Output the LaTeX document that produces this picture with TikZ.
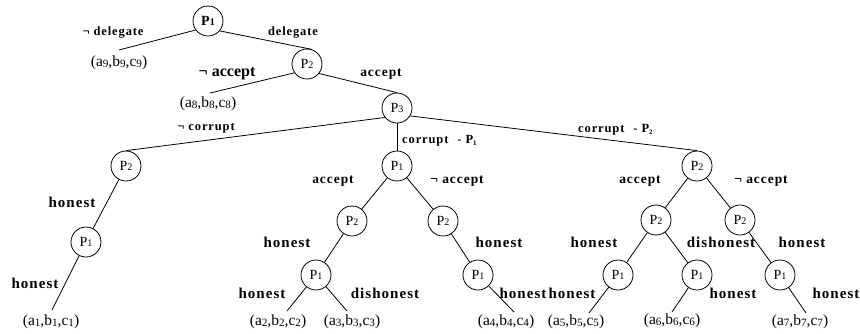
\documentclass[tikz,border=0pt]{standalone}
\usepackage{fontspec}
\setmainfont{Liberation Serif}
\newfontfamily\lblfont[LetterSpace=7]{Liberation Serif}
\newcommand\sbd[1]{\raisebox{-0.1ex}{\scalebox{0.72}{#1}}}
\newcommand\lfv[1]{(a\sbd{#1},b\sbd{#1},c\sbd{#1})}
\newcommand\pn[1]{P\sbd{#1}}
\newcommand\bsub[1]{\raisebox{-0.35ex}{\scalebox{0.55}{#1}}}
\tikzset{
  pl/.style={circle,draw,line width=0.8pt,minimum size=30pt,inner sep=0pt,font=\fontsize{14}{14}\selectfont},
  lf/.style={inner sep=0pt,anchor=north,font=\fontsize{15.5}{15.5}\selectfont},
  lbA/.style={inner sep=0pt,font=\lblfont\bfseries\fontsize{15}{15}\selectfont},
  lbB/.style={inner sep=0pt,font=\lblfont\bfseries\fontsize{13.5}{13.5}\selectfont},
  lbC/.style={inner sep=0pt,font=\lblfont\bfseries\fontsize{12.5}{12.5}\selectfont},
  lbD/.style={inner sep=0pt,font=\bfseries\fontsize{16}{16}\selectfont},
  con/.style={line width=0.8pt}
}
\begin{document}
\begin{tikzpicture}[x=1pt,y=-1pt]
\useasboundingbox (0,0) rectangle (860,333);
% player nodes
\node[pl,font=\bfseries\fontsize{14}{14}\selectfont] (n1) at (208,21) {\pn{1}};
\node[pl] (n2) at (307,64) {\pn{2}};
\node[pl] (n3) at (397,108) {\pn{3}};
\node[pl] (a) at (126,166) {\pn{2}};
\node[pl] (b) at (397,166) {\pn{1}};
\node[pl] (c) at (697,166) {\pn{2}};
\node[pl] (a1) at (86,242) {\pn{1}};
\node[pl] (b1) at (352,221) {\pn{2}};
\node[pl] (b2) at (443,221) {\pn{2}};
\node[pl] (c1) at (656,220) {\pn{2}};
\node[pl] (c2) at (740,220) {\pn{2}};
\node[pl] (b11) at (316,275) {\pn{1}};
\node[pl] (b21) at (478,275) {\pn{1}};
\node[pl] (c11) at (618,275) {\pn{1}};
\node[pl] (c12) at (697,275) {\pn{1}};
\node[pl] (c21) at (780,275) {\pn{1}};
% leaves
\node[lf] (l9) at (119,56) {\lfv{9}};
\node[lf] (l8) at (208,97) {\lfv{8}};
\node[lf] (l1) at (51,315) {\lfv{1}};
\node[lf] (l2) at (278,315) {\lfv{2}};
\node[lf] (l3) at (352,315) {\lfv{3}};
\node[lf] (l4) at (506,315) {\lfv{4}};
\node[lf] (l5) at (576,315) {\lfv{5}};
\node[lf] (l6) at (672,314) {\lfv{6}};
\node[lf] (l7) at (800,315) {\lfv{7}};
% connectors
\draw[con] (n1.216) -- ([yshift=6pt]l9.north);
\draw[con] (n1.-40) -- (n2.73);
\draw[con] (n2.215) -- ([xshift=2pt,yshift=4pt]l8.north);
\draw[con] (n2.-38) -- (n3.north);
\draw[con] (n3.218) -- (a.north);
\draw[con] (n3.south) -- (b.north);
\draw[con] (n3.-31) -- (c.north);
\draw[con] (a) -- (a1);
\draw[con] (a1) -- ([xshift=1pt,yshift=5pt]l1.north);
\draw[con] (b) -- (b1);
\draw[con] (b) -- (b2);
\draw[con] (b1) -- (b11);
\draw[con] (b2) -- (b21);
\draw[con] (b11) -- ([xshift=9pt,yshift=4pt]l2.north);
\draw[con] (b11) -- ([xshift=-5pt,yshift=4pt]l3.north);
\draw[con] (b21) -- ([xshift=8pt,yshift=3pt]l4.north);
\draw[con] (c) -- (c1);
\draw[con] (c) -- (c2);
\draw[con] (c1) -- (c11);
\draw[con] (c1) -- (c12);
\draw[con] (c2) -- (c21);
\draw[con] (c11) -- ([xshift=13pt,yshift=2pt]l5.north);
\draw[con] (c12) -- ([yshift=2pt]l6.north);
\draw[con] (c21) -- ([xshift=6pt,yshift=2pt]l7.north);
% labels
\node[lbC] (t1) at (113,33) {¬ delegate};
\node[lbC] (t2) at (293,33) {delegate};
\node[lbD] (t3) at (227,74) {¬ accept};
\node[lbB] (t4) at (381,74) {accept};
\node[lbC] (t5) at (206,128) {¬ corrupt};
\node[lbC,anchor=west] (t6) at (402,141) {corrupt\hspace{9pt}-\hspace{4pt}P\bsub{1}};
\node[lbC,anchor=west] (t7) at (578,130) {corrupt\hspace{9pt}-\hspace{4pt}P\bsub{2}};
\node[lbA] (t8) at (72,202) {honest};
\node[lbA] (t9) at (35,283) {honest};
\node[lbB] (t10) at (333,181) {accept};
\node[lbB] (t11) at (457,181) {¬ accept};
\node[lbB] (t12) at (640,181) {accept};
\node[lbB] (t13) at (761,181) {¬ accept};
\node[lbA] (t14) at (287,242) {honest};
\node[lbA] (t15) at (499,242) {honest};
\node[lbA] (t16) at (594,242) {honest};
\node[lbA] (t17) at (721,242) {dishonest};
\node[lbA] (t18) at (802,242) {honest};
\node[lbA] (t19) at (262,293) {honest};
\node[lbA] (t20) at (385,293) {dishonest};
\node[lbA] (t21) at (523,293) {honest};
\node[lbA] (t22) at (572,293) {honest};
\node[lbA] (t23) at (733,293) {honest};
\node[lbA] (t24) at (836,293) {honest};
\end{tikzpicture}
\end{document}
